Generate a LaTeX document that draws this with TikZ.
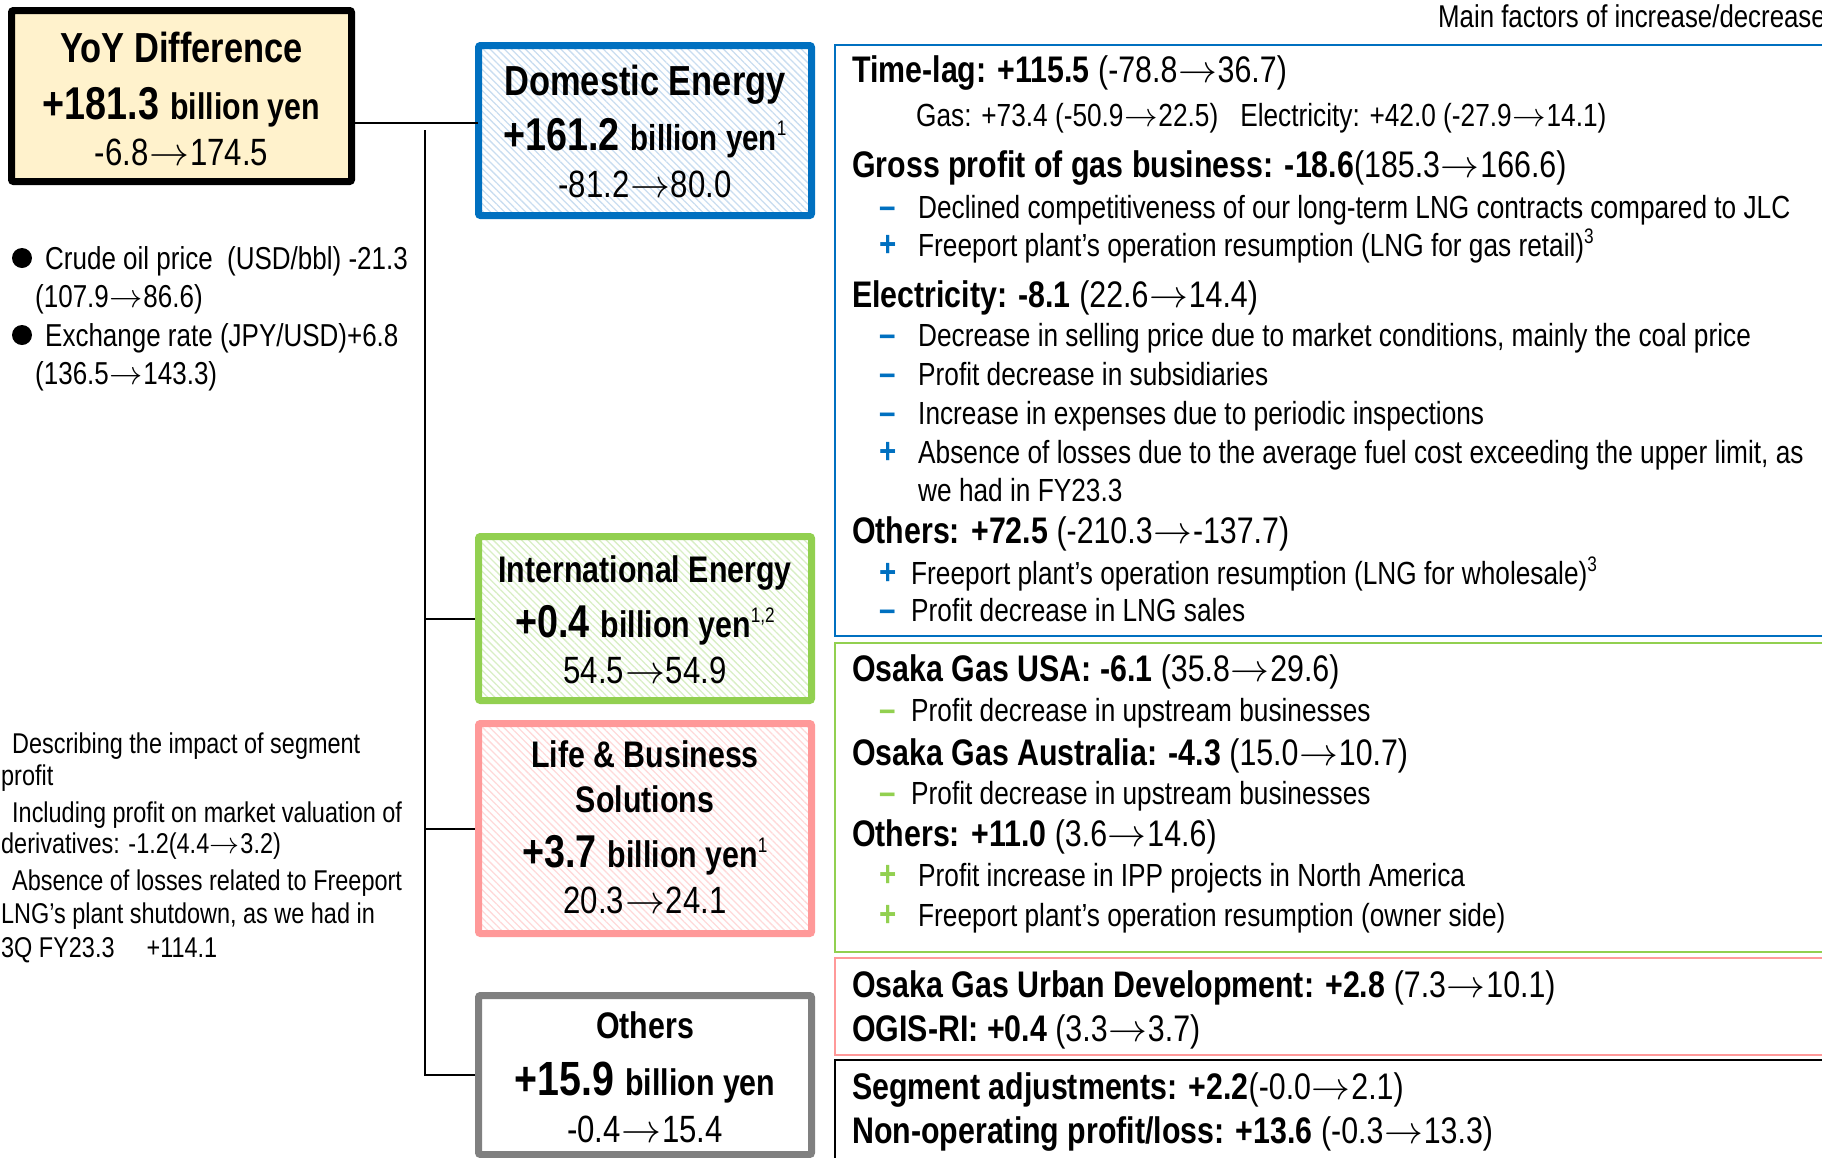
\documentclass[tikz,border=0pt]{standalone}
\usepackage{graphicx}
\usepackage{fontspec}
\setmainfont{Liberation Sans}[FakeStretch=0.82]
\usetikzlibrary{patterns.meta}
\definecolor{dblue}{HTML}{0070C0}
\definecolor{hblue}{HTML}{C9DDF0}
\definecolor{igreen}{HTML}{92D050}
\definecolor{hgreen}{HTML}{D8EEC4}
\definecolor{lpink}{HTML}{FF9999}
\definecolor{hpink}{HTML}{FFD9D9}
\definecolor{ogray}{HTML}{808080}
\definecolor{yfill}{HTML}{FFF2CC}
\newcommand{\fs}[1]{\fontsize{#1}{#1}\selectfont}
\newcommand{\sps}[2][15pt]{\raisebox{#1}{\fs{21}#2}}
\newcommand{\ra}{\kern0.02em\resizebox{1.05em}{!}{$\rightarrow$}\kern0.02em}
\newcommand{\gap}{\hspace{11pt}}
\tikzset{
  segbox/.style={line width=7pt, rounded corners=2pt, inner sep=0pt},
  bl/.style={anchor=base west, inner sep=0pt},
  bc/.style={anchor=base, inner sep=0pt},
  hd/.style={bl, font=\fs{37}},
  itm/.style={bl, font=\fs{32}},
  sub/.style={bl, font=\fs{32}},
  ann/.style={bl, font=\fs{31.7}},
  fnote/.style={bl, font=\fs{28.6}},
  mkb/.style={bc, font=\fs{36}\bfseries, text=dblue},
  mkg/.style={bc, font=\fs{36}\bfseries, text=igreen},
  panel/.style={line width=2pt},
  conn/.style={line width=2pt, draw=black},
  hatch/.style={pattern={Lines[angle=-45,distance=5pt,line width=1.3pt]}, pattern color=#1}
}
\begin{document}
\begin{tikzpicture}[x=1pt,y=-1pt]
\useasboundingbox (0,0) rectangle (1822,1157);
\clip (0,0) rectangle (1822,1157);

% ---------- left boxes ----------
\node[segbox, draw=black, fill=yfill, minimum width=340pt, minimum height=171pt] (yoy) at (181.5,96) {};
\node[bc, font=\fs{42}\bfseries] (yoy1) at (181.5,62) {YoY Difference};
\node[bc] (yoy2) at (181.5,119) {{\fs{46}\bfseries +181.3}\gap{\fs{37}\bfseries billion yen}};
\node[bc, font=\fs{38}] (yoy3) at (181.5,165) {-6.8\ra174.5};

\node[segbox, draw=dblue, hatch=hblue, minimum width=333pt, minimum height=170pt] (dom) at (645,130.5) {};
\node[bc, font=\fs{42}\bfseries] (dom1) at (645,95) {Domestic Energy};
\node[bc] (dom2) at (645,150) {{\fs{46}\bfseries +161.2}\gap{\fs{36}\bfseries billion yen}\sps{1}};
\node[bc, font=\fs{38}] (dom3) at (645,197) {-81.2\ra80.0};

\node[segbox, draw=igreen, hatch=hgreen, minimum width=333pt, minimum height=164pt] (intl) at (645,618.5) {};
\node[bc, font=\fs{37}\bfseries] (intl1) at (645,582) {International Energy};
\node[bc] (intl2) at (645,637) {{\fs{46}\bfseries +0.4}\gap{\fs{37}\bfseries billion yen}\sps{1,2}};
\node[bc, font=\fs{38}] (intl3) at (645,683) {54.5\ra54.9};

\node[segbox, draw=lpink, hatch=hpink, minimum width=333pt, minimum height=210pt] (life) at (645,828.5) {};
\node[bc, font=\fs{37}\bfseries] (life1) at (645,767) {Life \& Business};
\node[bc, font=\fs{37}\bfseries] (life2) at (645,812) {Solutions};
\node[bc] (life3) at (645,867) {{\fs{46}\bfseries +3.7}\gap{\fs{37}\bfseries billion yen}\sps{1}};
\node[bc, font=\fs{38}] (life4) at (645,913) {20.3\ra24.1};

\node[segbox, draw=ogray, fill=white, minimum width=333pt, minimum height=159pt] (oth) at (645,1075) {};
\node[bc, font=\fs{37}\bfseries] (oth1) at (645,1038) {Others};
\node[bc] (oth2) at (645,1095) {{\fs{48}\bfseries +15.9}\gap{\fs{37}\bfseries billion yen}};
\node[bc, font=\fs{38}] (oth3) at (645,1142) {-0.4\ra15.4};

% ---------- connectors ----------
\coordinate (hy) at (0,123);
\coordinate (vtop) at (425,130);
\draw[conn] (yoy.east |- hy) -- (dom.west |- hy);
\draw[conn] (vtop) |- (oth.west);
\draw[conn] (vtop |- intl.west) -- (intl.west);
\draw[conn] (vtop |- life.west) -- (life.west);

% ---------- left annotations ----------
\fill (22,258) circle (10pt);
\fill (22,335) circle (10pt);
\node[ann] (a1) at (45,269) {Crude oil price\ \ (USD/bbl) -21.3};
\node[ann] (a2) at (35,307) {(107.9\ra86.6)};
\node[ann] (a3) at (45,346) {Exchange rate (JPY/USD)+6.8};
\node[ann] (a4) at (35,384) {(136.5\ra143.3)};

\node[fnote] (f1) at (12,753) {Describing the impact of segment};
\node[fnote] (f2) at (1,785) {profit};
\node[fnote] (f3) at (12,822) {Including profit on market valuation of};
\node[fnote] (f4) at (1,853) {derivatives: -1.2(4.4\ra3.2)};
\node[fnote] (f5) at (12,890) {Absence of losses related to Freeport};
\node[fnote] (f6) at (1,923) {LNG’s plant shutdown, as we had in};
\node[fnote] (f7) at (1,957) {3Q FY23.3\hspace{32pt}+114.1};

% ---------- right panels ----------
\node[anchor=base east, inner sep=0pt, font=\fs{31.5}] (mf) at (1826,27) {Main factors of increase/decrease};

\draw[panel, dblue] (835,45) rectangle (1850,636);
\draw[panel, igreen] (835,643) rectangle (1850,952);
\draw[panel, lpink] (835,958) rectangle (1850,1055);
\draw[panel, black] (835,1060) rectangle (1850,1170);

% blue panel
\node[hd] (t1) at (852,82) {\textbf{Time-lag: +115.5} (-78.8\ra36.7)};
\node[sub] (t2) at (916,126) {Gas: +73.4 (-50.9\ra22.5)\hspace{22pt}Electricity: +42.0 (-27.9\ra14.1)};
\node[hd] (t3) at (852,177) {\textbf{Gross profit of gas business: -18.6}(185.3\ra166.6)};
\node[mkb] (m4) at (888,218) {–};
\node[itm] (t4) at (918,218) {Declined competitiveness of our long-term LNG contracts compared to JLC};
\node[mkb] (m5) at (888,256) {+};
\node[itm] (t5) at (918,256) {Freeport plant’s operation resumption (LNG for gas retail)\sps[13pt]{3}};
\node[hd] (t6) at (852,307) {\textbf{Electricity: -8.1} (22.6\ra14.4)};
\node[mkb] (m7) at (888,346) {–};
\node[itm] (t7) at (918,346) {Decrease in selling price due to market conditions, mainly the coal price};
\node[mkb] (m8) at (888,385) {–};
\node[itm] (t8) at (918,385) {Profit decrease in subsidiaries};
\node[mkb] (m9) at (888,424) {–};
\node[itm] (t9) at (918,424) {Increase in expenses due to periodic inspections};
\node[mkb] (m10) at (888,463) {+};
\node[itm] (t10) at (918,463) {Absence of losses due to the average fuel cost exceeding the upper limit, as};
\node[itm] (t11) at (918,501) {we had in FY23.3};
\node[hd] (t12) at (852,543) {\textbf{Others: +72.5} (-210.3\ra-137.7)};
\node[mkb] (m13) at (888,584) {+};
\node[itm] (t13) at (911,584) {Freeport plant’s operation resumption (LNG for wholesale)\sps[13pt]{3}};
\node[mkb] (m14) at (888,621) {–};
\node[itm] (t14) at (911,621) {Profit decrease in LNG sales};

% green panel
\node[hd] (g1) at (852,681) {\textbf{Osaka Gas USA: -6.1} (35.8\ra29.6)};
\node[mkg] (gm2) at (888,721) {–};
\node[itm] (g2) at (911,721) {Profit decrease in upstream businesses};
\node[hd] (g3) at (852,765) {\textbf{Osaka Gas Australia: -4.3} (15.0\ra10.7)};
\node[mkg] (gm4) at (888,804) {–};
\node[itm] (g4) at (911,804) {Profit decrease in upstream businesses};
\node[hd] (g5) at (852,846) {\textbf{Others: +11.0} (3.6\ra14.6)};
\node[mkg] (gm6) at (888,886) {+};
\node[itm] (g6) at (918,886) {Profit increase in IPP projects in North America};
\node[mkg] (gm7) at (888,926) {+};
\node[itm] (g7) at (918,926) {Freeport plant’s operation resumption (owner side)};

% pink panel
\node[hd] (p1) at (852,997) {\textbf{Osaka Gas Urban Development: +2.8} (7.3\ra10.1)};
\node[hd] (p2) at (852,1041) {\textbf{OGIS-RI: +0.4} (3.3\ra3.7)};

% black panel
\node[hd] (k1) at (852,1099) {\textbf{Segment adjustments: +2.2}(-0.0\ra2.1)};
\node[hd] (k2) at (852,1143) {\textbf{Non-operating profit/loss: +13.6} (-0.3\ra13.3)};
\end{tikzpicture}
\end{document}
